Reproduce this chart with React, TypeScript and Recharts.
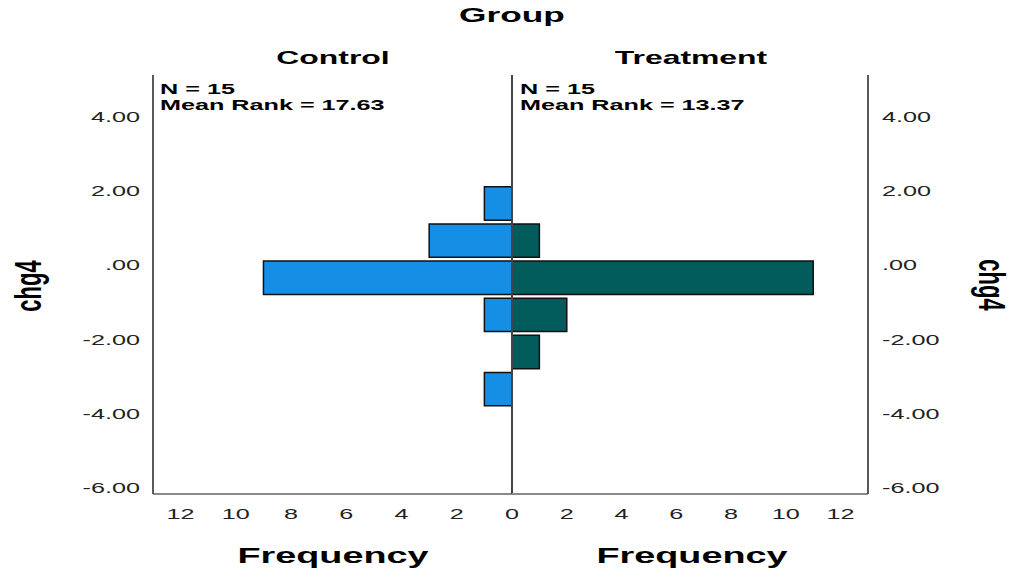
import React from "react";
import { Bar, BarChart, ReferenceLine, XAxis, YAxis } from "recharts";

// histogram bins of chg4 (bin centres) and counts per group
const binMids = [1.66, 0.66, -0.34, -1.34, -2.34, -3.34];
const controlCounts = [1, 3, 9, 1, 0, 1];
const treatmentCounts = [0, 1, 11, 2, 1, 0];
const yTicks = [-6, -4, -2, 0, 2, 4];
const freqTicks = [0, 2, 4, 6, 8, 10, 12];
const groupNames = ["Control", "Treatment"];
const nValues = [15, 15];
const meanRanks = [17.63, 13.37];

const BIN_WIDTH = 1;
const Y_MIN = -6.17;
const Y_MAX = 5.12;
const FREQ_MAX = 13;

const W = 1015;
const H = 574;
const TOP = 75;
const BOTTOM = 494;
const LEFT = 153;
const MID = 512;
const RIGHT = 868;
const PLOT_H = BOTTOM - TOP;
const BAR_PX = (BIN_WIDTH * PLOT_H) / (Y_MAX - Y_MIN);

const SX = 1.68; // the picture is stretched sideways
const FONT = '"Liberation Sans", Arial, sans-serif';
const CONTROL_FILL = "#158ee6";
const TREAT_FILL = "#015c5b";

const rows = binMids.map((mid, i) => ({
  mid,
  control: controlCounts[i],
  treatment: treatmentCounts[i],
}));

const fmtY = (v: number) => v.toFixed(2).replace(/^(-?)0\./, "$1.");

function SText(props: {
  x: number;
  y: number;
  size: number;
  bold?: boolean;
  anchor?: "start" | "middle" | "end";
  rotate?: number;
  dy?: string;
  fill?: string;
  children: React.ReactNode;
}) {
  const { x, y, size, bold, anchor = "start", rotate, dy, fill = "#000", children } = props;
  return (
    <text
      transform={`translate(${x},${y}) scale(${SX},1)${rotate ? ` rotate(${rotate})` : ""}`}
      fontSize={size}
      fontWeight={bold ? "bold" : "normal"}
      fontFamily={FONT}
      textAnchor={anchor}
      dy={dy}
      fill={fill}
    >
      {children}
    </text>
  );
}

const yTick = (anchor: "start" | "end") => (p: any) => (
  <SText x={p.x} y={p.y} size={15} anchor={anchor} dy="0.36em" fill="#222">
    {fmtY(p.payload.value)}
  </SText>
);

const xTick = (p: any) => (
  <SText x={p.x} y={p.y} size={15} anchor="middle" dy="0.71em" fill="#222">
    {p.payload.value}
  </SText>
);

const axisStroke = { stroke: "#5a5a5a", strokeWidth: 2 };
const baseStroke = { stroke: "#8a8a8a", strokeWidth: 2 };

export default function App() {
  return (
    <div style={{ position: "absolute", left: 0, top: 0, width: W, height: H, background: "#fff" }}>
      <div style={{ position: "absolute", left: 0, top: 0 }}>
        <BarChart
          width={W}
          height={H}
          data={rows}
          layout="vertical"
          margin={{ top: TOP, left: LEFT - 60, right: W - MID, bottom: H - BOTTOM - 30 }}
        >
          <XAxis
            type="number"
            domain={[0, FREQ_MAX]}
            ticks={freqTicks}
            reversed
            height={30}
            axisLine={baseStroke}
            tickLine={false}
            tickSize={0}
            tickMargin={14}
            tick={xTick}
          />
          <YAxis
            type="number"
            dataKey="mid"
            domain={[Y_MIN, Y_MAX]}
            ticks={yTicks}
            reversed
            width={60}
            axisLine={axisStroke}
            tickLine={false}
            tickSize={0}
            tickMargin={13}
            tick={yTick("end")}
          />
          <Bar
            dataKey="control"
            fill={CONTROL_FILL}
            stroke="#111"
            strokeWidth={1.5}
            barSize={BAR_PX}
            isAnimationActive={false}
          />
        </BarChart>
      </div>
      <div style={{ position: "absolute", left: 0, top: 0 }}>
        <BarChart
          width={W}
          height={H}
          data={rows}
          layout="vertical"
          margin={{ top: TOP, left: MID, right: W - RIGHT - 60, bottom: H - BOTTOM - 30 }}
        >
          <XAxis
            type="number"
            domain={[0, FREQ_MAX]}
            ticks={freqTicks.slice(1)}
            height={30}
            axisLine={baseStroke}
            tickLine={false}
            tickSize={0}
            tickMargin={14}
            tick={xTick}
          />
          <YAxis
            type="number"
            dataKey="mid"
            orientation="right"
            domain={[Y_MIN, Y_MAX]}
            ticks={yTicks}
            reversed
            width={60}
            axisLine={axisStroke}
            tickLine={false}
            tickSize={0}
            tickMargin={14}
            tick={yTick("start")}
          />
          <Bar
            dataKey="treatment"
            fill={TREAT_FILL}
            stroke="#111"
            strokeWidth={1.5}
            barSize={BAR_PX}
            isAnimationActive={false}
          />
          <ReferenceLine x={0} stroke="#444" strokeWidth={2} />
        </BarChart>
      </div>
      <svg
        width={W}
        height={H}
        style={{ position: "absolute", left: 0, top: 0, pointerEvents: "none" }}
      >
        <SText x={MID} y={22} size={21} bold anchor="middle">Group</SText>
        <SText x={333} y={64} size={19} bold anchor="middle">{groupNames[0]}</SText>
        <SText x={691} y={64} size={19} bold anchor="middle">{groupNames[1]}</SText>
        {[LEFT + 7, MID + 8].map((x, i) => (
          <g key={i}>
            <SText x={x} y={94} size={15} bold>{`N = ${nValues[i]}`}</SText>
            <SText x={x} y={110} size={15} bold>{`Mean Rank = ${meanRanks[i].toFixed(2)}`}</SText>
          </g>
        ))}
        <SText x={333} y={563} size={22.5} bold anchor="middle">Frequency</SText>
        <SText x={692} y={563} size={22.5} bold anchor="middle">Frequency</SText>
        <SText x={28} y={286} size={22} bold anchor="middle" rotate={-90} dy="0.35em">chg4</SText>
        <SText x={992} y={285} size={22} bold anchor="middle" rotate={90} dy="0.35em">chg4</SText>
      </svg>
    </div>
  );
}
